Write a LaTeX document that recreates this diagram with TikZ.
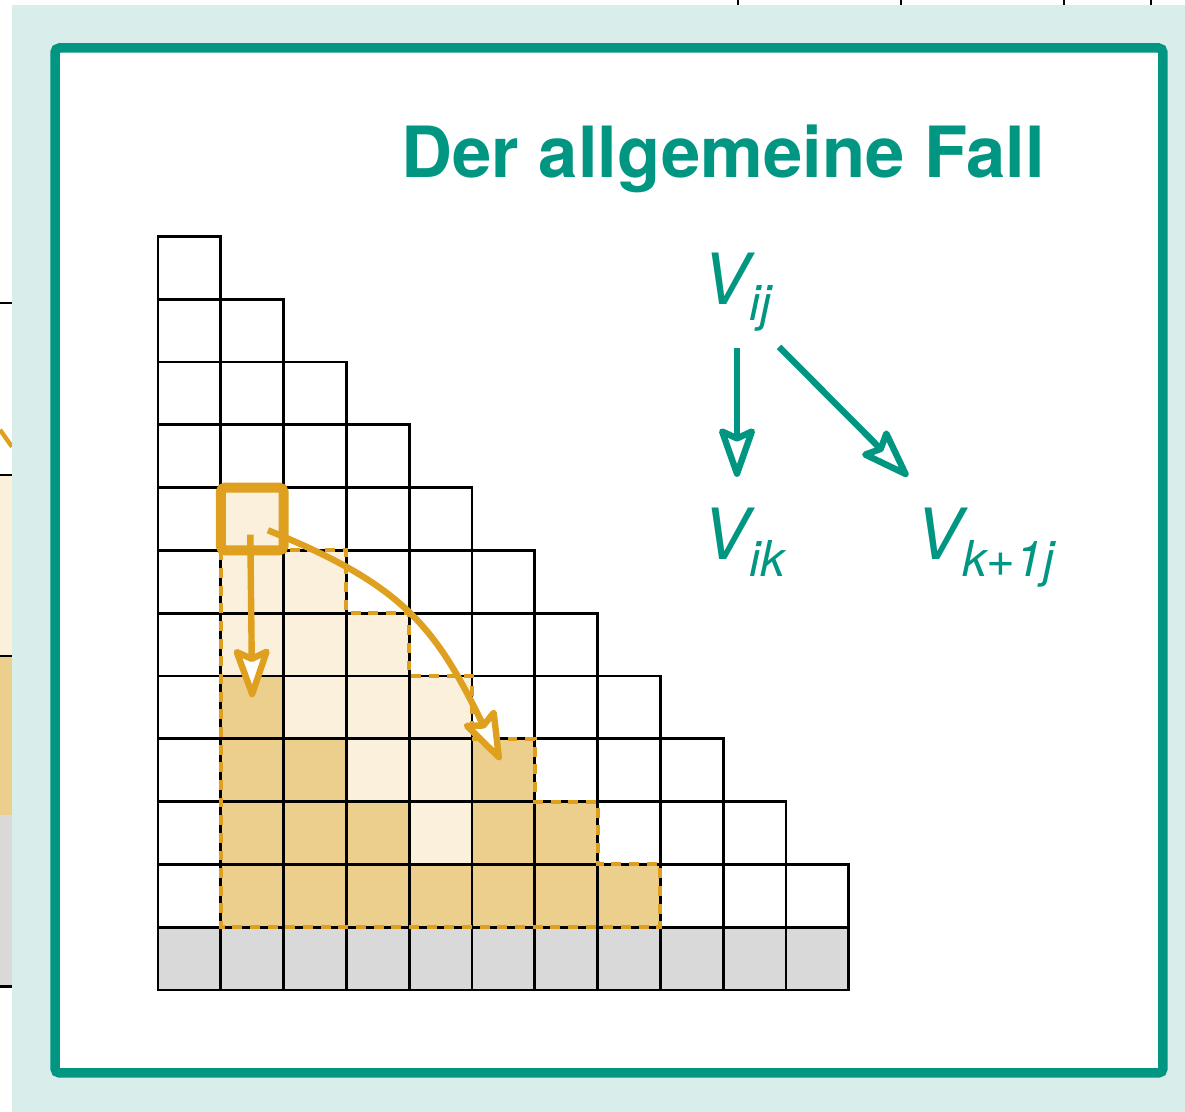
\documentclass[tikz,border=0pt]{standalone}
\usepackage{fontspec}
\setmainfont{TeX Gyre Heros}
\usepackage{tikz}
\usetikzlibrary{arrows.meta,positioning,calc}

\definecolor{kitgreen}{HTML}{009682}
\definecolor{kitbg}{HTML}{D9EEEA}
\definecolor{gold}{HTML}{DFA020}
\definecolor{goldlight}{HTML}{FAF0DC}
\definecolor{golddark}{HTML}{EDCF8D}
\definecolor{cellgray}{HTML}{D9D9D9}

\begin{document}
\begin{tikzpicture}[
    cell/.style={draw=black, line width=1.3pt},
    hl/.style={
        draw=gold, line width=4.5pt, fill=goldlight, rounded corners=2pt,
        minimum size=1cm, inner sep=0pt},
    stair/.style={draw=gold, line width=1.8pt, dash pattern=on 4.5pt off 3.5pt},
    garr/.style={
        -{Stealth[length=26pt,width=18pt,inset=4pt,fill=white,round]},
        draw=gold, line width=2.9pt},
    tarr/.style={
        -{Stealth[length=26pt,width=18pt,inset=4pt,fill=white,round]},
        draw=kitgreen, line width=2.9pt},
    title/.style={
        text=kitgreen, font=\bfseries\fontsize{32}{38}\selectfont,
        inner sep=0pt, anchor=base},
    vlab/.style={
        text=kitgreen, font=\itshape\fontsize{32}{38}\selectfont,
        inner sep=0pt, anchor=base west}
]
\useasboundingbox (-2.516,-1.943) rectangle (16.354,15.764);
\fill[white] (-2.516,-1.943) rectangle (16.354,15.764);

%% ══════════════════════════════ BACKDROP ══════════════════════════════
%% cut-off pieces of the neighbouring slide
\fill[goldlight] (-2.516,8.20) rectangle (-2.325,5.32);
\fill[golddark]  (-2.516,5.32) rectangle (-2.325,2.79);
\fill[cellgray]  (-2.516,2.79) rectangle (-2.325,0.06);
\draw[line width=1.2pt] (-2.516,10.94) -- (-2.325,10.94);
\draw[line width=1.2pt] (-2.516,8.20) -- (-2.325,8.20);
\draw[line width=1.2pt] (-2.516,5.32) -- (-2.325,5.32);
\draw[line width=1.2pt] (-2.516,0.06) -- (-2.325,0.06);
\draw[gold, line width=2pt] (-2.516,8.92) -- (-2.325,8.65);
\foreach \x in {9.24,11.83,14.43,15.81}
    \draw[line width=0.8pt] (\x,15.764) -- (\x,15.685);

\fill[kitbg] (-2.325,-1.943) rectangle (16.354,15.685);
\draw[kitgreen, line width=4.3pt, fill=white, rounded corners=2pt]
    (-1.640,-1.322) rectangle (16.003,15.0);

\node[title] (title) at (9.0,12.93) {Der allgemeine Fall};

%% ══════════════════════════════ TABLE ══════════════════════════════
\fill[cellgray] (0,0) rectangle (11,1);
\fill[goldlight] (1,1) -- (1,7) -- (3,7) -- (3,6) -- (4,6) -- (4,5) -- (5,5)
    -- (5,4) -- (6,4) -- (6,3) -- (7,3) -- (7,2) -- (8,2) -- (8,1) -- cycle;
\foreach \c/\h in {1/5,2/4,3/3,4/2,5/4,6/3,7/2}
    \fill[golddark] (\c,1) rectangle (\c+1,\h);

%% staircase of cells, 11 wide at the bottom
\foreach \r in {0,...,11} {
    \pgfmathtruncatemacro\n{min(11,12-\r)}
    \foreach \c in {1,...,\n}
        \draw[cell] (\c-1,\r) rectangle (\c,\r+1);
}

\draw[stair] (1,7) -- (1,1) -- (8,1) -- (8,2) -- (7,2) -- (7,3) -- (6,3)
    -- (6,4) -- (5,4) -- (5,5) -- (4,5) -- (4,6) -- (3,6) -- (3,7) -- (2,7);

\node[hl] (vcell) at (1.5,7.5) {};
\coordinate (ik_tip) at (1.5,4.66);
\coordinate (kj_tip) at (5.45,3.66);

\draw[garr] ($(vcell.center)+(-0.03,-0.25)$) -- (ik_tip);
\draw[garr] ($(vcell.center)+(0.25,-0.18)$)
    to[out=-22, in=116, looseness=1.15] (kj_tip);

%% ══════════════════════════════ RULE ══════════════════════════════
\node[vlab] (vij)  at (8.66,10.91) {V\textsubscript{ij}};
\node[vlab] (vik)  at (8.66,6.85)  {V\textsubscript{ik}};
\node[vlab] (vk1j) at (12.05,6.85) {V\textsubscript{k+1j}};

\draw[tarr] ($(vij.base west)+(0.56,-0.69)$) -- ($(vik.base west)+(0.56,1.32)$);
\draw[tarr] ($(vij.base west)+(1.23,-0.67)$) -- ($(vk1j.base west)+(-0.11,1.33)$);

\end{tikzpicture}
\end{document}
